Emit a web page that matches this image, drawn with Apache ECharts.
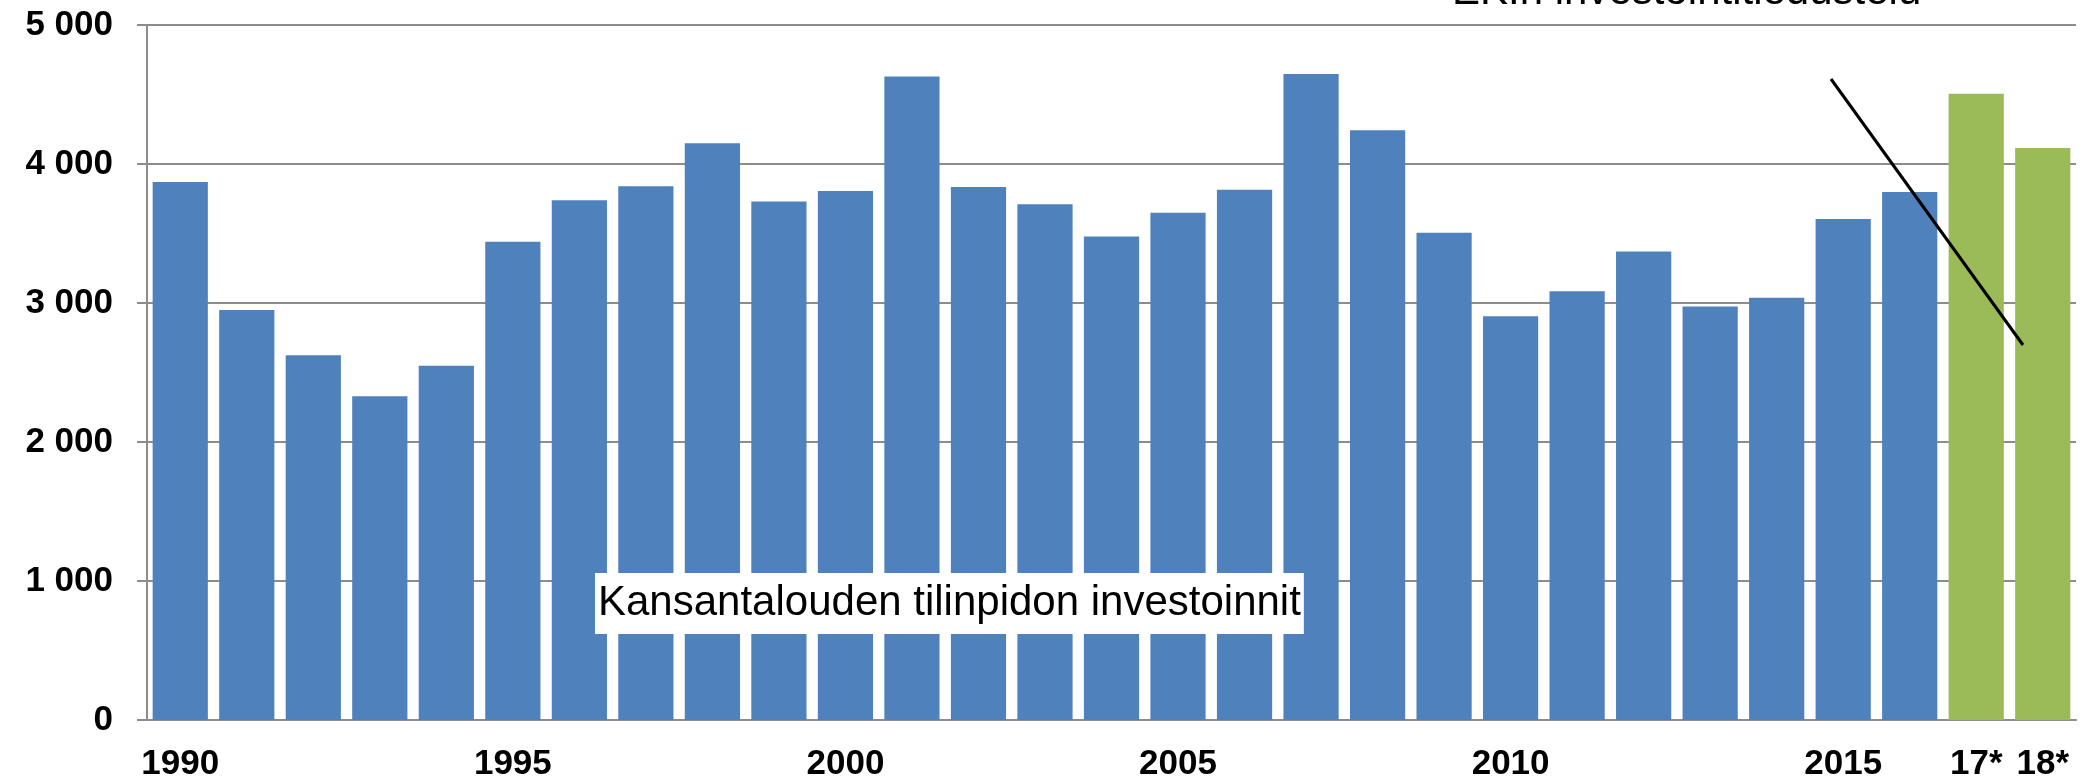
<!DOCTYPE html>
<html>
<head>
<meta charset="utf-8">
<script src="https://cdn.jsdelivr.net/npm/echarts@6/dist/echarts.min.js"></script>
<style>
  html, body { margin: 0; padding: 0; background: #fff; }
  #chart { width: 2088px; height: 783px; }
</style>
</head>
<body>
<div id="chart"></div>
<script>
// categories: 1990..2016 plus the two forecast years
const years = [
  '1990', '1991', '1992', '1993', '1994', '1995', '1996', '1997', '1998', '1999',
  '2000', '2001', '2002', '2003', '2004', '2005', '2006', '2007', '2008', '2009',
  '2010', '2011', '2012', '2013', '2014', '2015', '2016'
];
const forecastYears = ['17*', '18*'];

// national accounts investment (blue bars)
const actualValues = [
  3870, 2950, 2625, 2330, 2548, 3440, 3740, 3840, 4150, 3730,
  3805, 4630, 3835, 3710, 3478, 3650, 3815, 4648, 4243, 3506,
  2905, 3085, 3370, 2975, 3038, 3604, 3799
];
// EK investment survey (green bars)
const forecastValues = [4506, 4115];

// only these ticks get a label
const shownLabels = ['1990', '1995', '2000', '2005', '2010', '2015', '17*', '18*'];

const categories = years.concat(forecastYears);
const allValues = actualValues.concat(forecastValues);

const labelFont = { color: '#000', fontFamily: 'Arial', fontWeight: 'bold', fontSize: 35, lineHeight: 40 };

const chart = echarts.init(document.getElementById('chart'));

chart.setOption({
  animation: false,
  textStyle: { fontFamily: 'Arial' },
  // the two text annotations
  title: [
    {
      text: 'Kansantalouden tilinpidon investoinnit',
      left: 595, top: 573,
      padding: [9, 3],
      backgroundColor: '#fff',
      textStyle: { color: '#000', fontSize: 42, fontWeight: 'normal', fontFamily: 'Arial', lineHeight: 43 }
    },
    {
      text: 'EK:n investointitiedustelu',
      left: 1452, top: -29,
      padding: 0,
      textStyle: { color: '#000', fontSize: 42, fontWeight: 'normal', fontFamily: 'Arial', lineHeight: 42 }
    }
  ],
  grid: { left: 147, right: 12, top: 25, bottom: 63 },
  xAxis: {
    type: 'category',
    data: categories,
    axisLine: { lineStyle: { color: '#8c8c8c', width: 2 } },
    axisTick: { show: false },
    axisLabel: {
      interval: 0,
      formatter: (v) => shownLabels.includes(v) ? '{b|' + v + '}' : '',
      rich: { b: labelFont },
      margin: 24
    }
  },
  yAxis: {
    type: 'value',
    min: 0,
    max: 5000,
    interval: 1000,
    axisLine: { show: true, lineStyle: { color: '#8c8c8c', width: 2 } },
    axisTick: { show: true, length: 10, lineStyle: { color: '#8c8c8c', width: 2 } },
    splitLine: { lineStyle: { color: '#8c8c8c', width: 2 } },
    axisLabel: {
      formatter: (v) => '{b|' + (v >= 1000 ? Math.floor(v / 1000) + ' ' + String(v % 1000).padStart(3, '0') : String(v)) + '}',
      rich: { b: labelFont },
      margin: 34
    }
  },
  series: [{
    type: 'bar',
    data: allValues,
    barCategoryGap: '17%',
    itemStyle: {
      // forecast years in green
      color: (p) => p.dataIndex >= years.length ? '#9BBB59' : '#4F81BD'
    },
    markLine: {
      silent: true,
      symbol: 'none',
      label: { show: false },
      lineStyle: { color: '#000', width: 3, type: 'solid' },
      data: [[{ x: 1831, y: 79 }, { x: 2023, y: 345 }]]
    }
  }]
});
</script>
</body>
</html>
